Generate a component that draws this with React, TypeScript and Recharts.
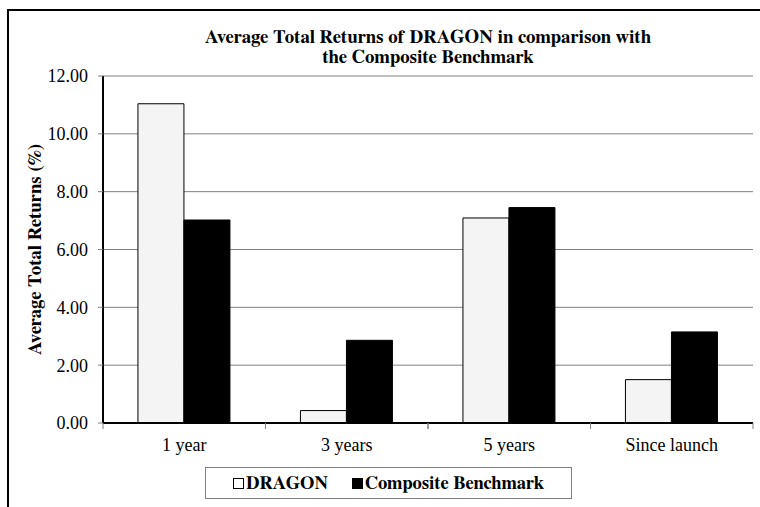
import { Bar, BarChart, CartesianGrid, Label, XAxis, YAxis } from "recharts";

const categories = ["1 year", "3 years", "5 years", "Since launch"];
const dragonReturns = [11.04, 0.43, 7.09, 1.5];
const benchmarkReturns = [7.02, 2.86, 7.45, 3.15];
const yTicks = [0, 2, 4, 6, 8, 10, 12];
const seriesNames = ["DRAGON", "Composite Benchmark"];
const titleLines = [
  "Average Total Returns of DRAGON in comparison with",
  "the Composite Benchmark"
];

const data = categories.map((name, i) => ({
  name,
  dragon: dragonReturns[i],
  benchmark: benchmarkReturns[i]
}));

const FONT = '"Liberation Serif", "Times New Roman", serif';
const BOLD_FONT = '"FreeSerif", "Liberation Serif", serif';
const W = 760;
const H = 507;
const margin = { top: 76, right: 7, left: 8, bottom: 54 };
const Y_AXIS_W = 95;
const BAND = (W - margin.left - margin.right - Y_AXIS_W) / categories.length;

function CategoryTick(props: any) {
  const { x, y, payload } = props;
  return (
    <g>
      <line x1={x - BAND / 2} x2={x - BAND / 2} y1={y} y2={y + 6} stroke="#808080" />
      <line x1={x + BAND / 2} x2={x + BAND / 2} y1={y} y2={y + 6} stroke="#808080" />
      <text x={x} y={y + 28} textAnchor="middle" fontSize={18} fontFamily={FONT} fill="#000">
        {payload.value}
      </text>
    </g>
  );
}

export default function App() {
  const swatches = [
    { name: seriesNames[0], fill: "#ffffff" },
    { name: seriesNames[1], fill: "#000000" }
  ];
  return (
    <div
      style={{
        position: "absolute",
        left: 0,
        top: 0,
        width: W,
        height: H,
        overflow: "hidden",
        background: "#fff",
        fontFamily: FONT
      }}
    >
      <div
        style={{
          position: "absolute",
          left: 7,
          top: 9,
          width: 800,
          height: 600,
          border: "2px solid #000"
        }}
      />
      <div
        style={{
          position: "absolute",
          left: 103,
          top: 28,
          width: 650,
          textAlign: "center",
          fontWeight: "bold",
          fontFamily: BOLD_FONT,
          fontSize: 18.8,
          lineHeight: "20px"
        }}
      >
        {titleLines.map((t) => (
          <div key={t}>{t}</div>
        ))}
      </div>
      <div style={{ position: "absolute", left: 0, top: 0 }}>
        <BarChart
          width={W}
          height={H}
          data={data}
          margin={margin}
          barCategoryGap="21.5%"
          barGap={0}
        >
          <CartesianGrid vertical={false} stroke="#808080" />
          <XAxis
            dataKey="name"
            height={30}
            tickLine={false}
            tickSize={0}
            tickMargin={0}
            axisLine={{ stroke: "#000", strokeWidth: 2 }}
            tick={<CategoryTick />}
            interval={0}
          />
          <XAxis
            xAxisId="top"
            dataKey="name"
            orientation="top"
            height={0}
            tick={false}
            tickLine={false}
            axisLine={{ stroke: "#333", strokeWidth: 1.5 }}
          />
          <YAxis
            width={Y_AXIS_W}
            domain={[0, 12]}
            ticks={yTicks}
            interval={0}
            tickFormatter={(v: number) => v.toFixed(2)}
            tickSize={5}
            tickMargin={10}
            tickLine={{ stroke: "#808080" }}
            axisLine={{ stroke: "#000", strokeWidth: 2 }}
            tick={{ fill: "#000", fontSize: 18, fontFamily: FONT }}
          >
            <Label
              value="Average Total Returns (%)"
              angle={-90}
              position="center"
              dx={-21}
              style={{ fontWeight: "bold", fontSize: 18.8, fontFamily: BOLD_FONT, fill: "#000" }}
            />
          </YAxis>
          <YAxis
            yAxisId="right"
            orientation="right"
            width={0}
            domain={[0, 12]}
            tick={false}
            tickLine={false}
            axisLine={{ stroke: "#808080" }}
          />
          <Bar
            dataKey="dragon"
            name={seriesNames[0]}
            fill="#f4f4f4"
            stroke="#000"
            strokeWidth={1}
            isAnimationActive={false}
          />
          <Bar
            dataKey="benchmark"
            name={seriesNames[1]}
            fill="#000"
            stroke="#000"
            strokeWidth={1}
            isAnimationActive={false}
          />
        </BarChart>
      </div>
      <div
        style={{
          position: "absolute",
          left: 205,
          top: 467,
          width: 365,
          height: 30,
          border: "1px solid #808080",
          display: "flex",
          alignItems: "center",
          justifyContent: "center",
          gap: 24,
          fontWeight: "bold",
          fontFamily: BOLD_FONT,
          fontSize: 18.5
        }}
      >
        {swatches.map((s) => (
          <div key={s.name} style={{ display: "flex", alignItems: "center" }}>
            <span
              style={{
                display: "inline-block",
                width: 9,
                height: 9,
                border: "1px solid #000",
                background: s.fill,
                marginRight: 2
              }}
            />
            <span>{s.name}</span>
          </div>
        ))}
      </div>
    </div>
  );
}
